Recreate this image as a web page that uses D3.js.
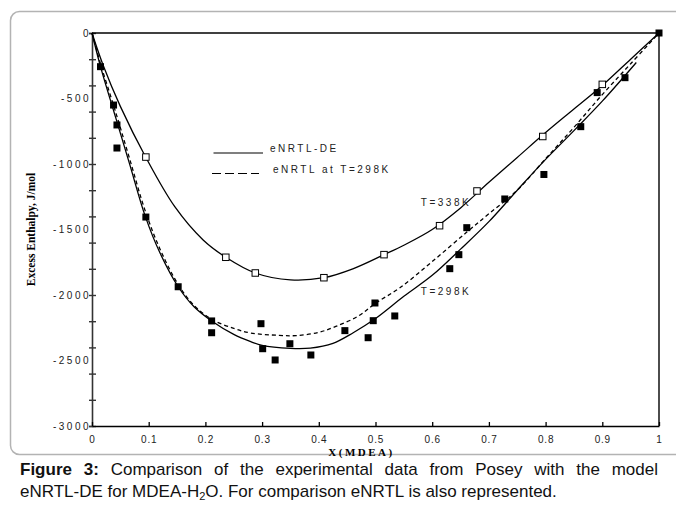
<!DOCTYPE html>
<html>
<head>
<meta charset="utf-8">
<script src="https://cdn.jsdelivr.net/npm/d3@7"></script>
<style>
  body { margin: 0; background: #fff; }
  #wrap { position: relative; width: 676px; height: 513px; overflow: hidden; }
  #wrap svg { position: absolute; left: 0; top: 0; }
  .small { font-family: Arial, "Liberation Sans", sans-serif; font-size: 10px; letter-spacing: 2.5px; fill: #222; }
  #caption { position: absolute; left: 20px; top: 459px; width: 638px;
             font-family: Arial, "Liberation Sans", sans-serif; font-size: 17px; line-height: 22px; color: #111; }
  #caption .l1 { text-align: justify; text-align-last: justify; }
</style>
</head>
<body>
<div id="wrap"></div>
<script>
// ---------- data ----------
const xTicks = [0, 0.1, 0.2, 0.3, 0.4, 0.5, 0.6, 0.7, 0.8, 0.9, 1]
const yLabels = [0, -500, -1000, -1500, -2000, -2500, -3000]
const yTicks = [0, -200, -400, -600, -800, -1000, -1200, -1400, -1600, -1800,
                -2000, -2200, -2400, -2600, -2800, -3000]

// experimental points, Posey, T=298K (filled squares)
const exp298 = [
  [0.015, -257], [0.038, -550], [0.044, -702], [0.044, -878], [0.095, -1405],
  [0.152, -1937], [0.211, -2198], [0.211, -2288], [0.298, -2219], [0.301, -2410],
  [0.323, -2496], [0.349, -2372], [0.386, -2458], [0.446, -2272], [0.487, -2326],
  [0.496, -2196], [0.499, -2061], [0.534, -2160], [0.631, -1799], [0.647, -1692],
  [0.661, -1486], [0.728, -1267], [0.797, -1080], [0.862, -715], [0.891, -455],
  [0.940, -341], [1.0, 0]
]
// experimental points, T=338K (open squares)
const exp338 = [
  [0.095, -947], [0.236, -1712], [0.288, -1832], [0.409, -1868], [0.515, -1692],
  [0.613, -1471], [0.679, -1206], [0.795, -790], [0.900, -392]
]
// eNRTL-DE, T=338K
const modelDE338 = [
  [0, 0], [0.02, -250], [0.05, -560], [0.095, -950], [0.146, -1326], [0.196, -1580],
  [0.236, -1712], [0.288, -1832], [0.35, -1885], [0.409, -1868], [0.46, -1800],
  [0.515, -1692], [0.55, -1620], [0.6, -1500], [0.65, -1335], [0.7, -1140],
  [0.75, -950], [0.8, -760], [0.85, -580], [0.9, -400], [0.95, -200], [1, 0]
]
// eNRTL-DE, T=298K
const modelDE298 = [
  [0, 0], [0.015, -257], [0.04, -620], [0.066, -995], [0.094, -1400], [0.12, -1680],
  [0.152, -1937], [0.18, -2090], [0.211, -2198], [0.25, -2300], [0.28, -2356],
  [0.3, -2385], [0.35, -2407], [0.385, -2405], [0.425, -2369], [0.46, -2290],
  [0.5, -2180], [0.55, -2010], [0.6, -1850], [0.65, -1650], [0.7, -1440],
  [0.75, -1200], [0.8, -965], [0.85, -745], [0.9, -520], [0.96, -225]
]
// eNRTL at T=298K (dashed)
const modelE298 = [
  [0, 0], [0.015, -235], [0.04, -580], [0.066, -955], [0.094, -1360], [0.12, -1650],
  [0.152, -1920], [0.18, -2080], [0.211, -2185], [0.25, -2255], [0.28, -2290],
  [0.33, -2308], [0.36, -2310], [0.4, -2285], [0.43, -2240], [0.47, -2160],
  [0.5, -2063], [0.543, -1945], [0.6, -1745], [0.661, -1520], [0.7, -1380],
  [0.75, -1200], [0.8, -960], [0.85, -720], [0.9, -470], [0.95, -235], [1, 0]
]

const legendItems = [
  { label: "eNRTL-DE", dash: null },
  { label: "eNRTL at T=298K", dash: "9,4" }
]
const curveLabels = [
  { text: "T=338K", x: 0.58, y: -1290 },
  { text: "T=298K", x: 0.58, y: -1970 }
]

// ---------- layout ----------
const width = 676
const height = 513
const plot = { left: 92, right: 659, top: 33, bottom: 426 }

const wrapper = d3.select("#wrap")
  .append("svg")
  .attr("width", width)
  .attr("height", height)

// rounded frame around the figure
wrapper.append("rect")
  .attr("x", 10.5).attr("y", 11.5)
  .attr("width", 720).attr("height", 443)
  .attr("rx", 9)
  .attr("fill", "none")
  .attr("stroke", "#b3b3b3")
  .attr("stroke-width", 1.5)

// ---------- scales ----------
const xScale = d3.scaleLinear()
  .domain([0, 1])
  .range([plot.left, plot.right])

const yScale = d3.scaleLinear()
  .domain([-3000, 0])
  .range([plot.bottom, plot.top])

const bounds = wrapper.append("g")

// ---------- axes ----------
// y ticks every 200, crossing the axis line
const yTickAxis = d3.axisLeft(yScale)
  .tickValues(yTicks)
  .tickSize(3)
  .tickFormat("")
const yTickG = bounds.append("g")
  .attr("transform", `translate(${plot.left},0)`)
  .call(yTickAxis)
yTickG.select(".domain").attr("stroke", "#333").attr("stroke-width", 1.6)
yTickG.selectAll(".tick line").attr("x2", -3).attr("x1", 4).attr("stroke", "#333").attr("stroke-width", 1.4)

// y labels every 500
const yLabelAxis = d3.axisLeft(yScale)
  .tickValues(yLabels)
  .tickSize(0)
  .tickPadding(1)
  .tickFormat(d => d3.format("d")(d).replace("−", "-"))
const yLabelG = bounds.append("g")
  .attr("transform", `translate(${plot.left},0)`)
  .call(yLabelAxis)
yLabelG.select(".domain").remove()
yLabelG.selectAll("text")
  .attr("class", "small")
  .attr("font-size", null)
  .attr("font-family", null)

// x axis, ticks pointing up
const xAxis = d3.axisBottom(xScale)
  .tickValues(xTicks)
  .tickSizeInner(-4)
  .tickSizeOuter(0)
  .tickPadding(10)
  .tickFormat(d => d3.format("")(d))
const xAxisG = bounds.append("g")
  .attr("transform", `translate(0,${plot.bottom})`)
  .call(xAxis)
xAxisG.select(".domain").attr("stroke", "#000").attr("stroke-width", 1.4)
xAxisG.selectAll(".tick line").attr("stroke", "#000").attr("stroke-width", 1.3)
xAxisG.selectAll("text")
  .attr("class", "small")
  .attr("font-size", null)
  .attr("font-family", null)
  .style("letter-spacing", "0.8px")

// top and right frame lines
bounds.append("line")
  .attr("x1", xScale(0)).attr("x2", xScale(1))
  .attr("y1", yScale(0)).attr("y2", yScale(0))
  .attr("stroke", "#000").attr("stroke-width", 1.4)
bounds.append("line")
  .attr("x1", xScale(1)).attr("x2", xScale(1))
  .attr("y1", yScale(0)).attr("y2", yScale(-3000))
  .attr("stroke", "#000").attr("stroke-width", 1.4)

// axis titles
bounds.append("text")
  .attr("x", (plot.left + plot.right) / 2 - 14)
  .attr("y", 456)
  .attr("text-anchor", "middle")
  .style("font-family", "'Times New Roman', 'Liberation Serif', serif")
  .style("font-weight", "bold")
  .style("font-size", "11px")
  .style("letter-spacing", "2.5px")
  .text("X(MDEA)")

bounds.append("text")
  .attr("transform", `translate(35,${(plot.top + plot.bottom) / 2}) rotate(-90)`)
  .attr("text-anchor", "middle")
  .style("font-family", "'Times New Roman', 'Liberation Serif', serif")
  .style("font-weight", "bold")
  .style("font-size", "11.5px")
  .text("Excess Enthalpy, J/mol")

// ---------- lines ----------
const lineGenerator = d3.line()
  .x(d => xScale(d[0]))
  .y(d => yScale(d[1]))
  .curve(d3.curveCatmullRom.alpha(0.5))

bounds.append("path")
  .attr("d", lineGenerator(modelE298))
  .attr("fill", "none")
  .attr("stroke", "#000")
  .attr("stroke-width", 1.3)
  .attr("stroke-dasharray", "4,3")

bounds.selectAll(".solid")
  .data([modelDE338, modelDE298])
  .join("path")
  .attr("class", "solid")
  .attr("d", d => lineGenerator(d))
  .attr("fill", "none")
  .attr("stroke", "#000")
  .attr("stroke-width", 1.3)

// ---------- points ----------
const sq = 7
bounds.selectAll(".filled")
  .data(exp298)
  .join("rect")
  .attr("class", "filled")
  .attr("x", d => xScale(d[0]) - sq / 2)
  .attr("y", d => yScale(d[1]) - sq / 2)
  .attr("width", sq).attr("height", sq)
  .attr("fill", "#000")

const osq = 6.5
bounds.selectAll(".open")
  .data(exp338)
  .join("rect")
  .attr("class", "open")
  .attr("x", d => xScale(d[0]) - osq / 2)
  .attr("y", d => yScale(d[1]) - osq / 2)
  .attr("width", osq).attr("height", osq)
  .attr("fill", "#fff")
  .attr("stroke", "#000")
  .attr("stroke-width", 1)

// ---------- labels on curves ----------
bounds.selectAll(".tlabel")
  .data(curveLabels)
  .join("text")
  .attr("class", "tlabel small")
  .attr("x", d => xScale(d.x))
  .attr("y", d => yScale(d.y) + 4)
  .text(d => d.text)

// ---------- legend ----------
const legend = bounds.append("g")
  .attr("transform", "translate(212,153)")
const legendRow = legend.selectAll("g")
  .data(legendItems)
  .join("g")
  .attr("transform", (d, i) => `translate(0,${i * 20.5})`)
legendRow.append("line")
  .attr("x1", (d, i) => i ? 0 : 1.5).attr("x2", (d, i) => i ? 47 : 51)
  .attr("stroke", "#000")
  .attr("stroke-width", 1.2)
  .attr("stroke-dasharray", d => d.dash)
legendRow.append("text")
  .attr("class", "small")
  .attr("x", (d, i) => i ? 61 : 58)
  .attr("y", -1)
  .text(d => d.label)

// ---------- caption ----------
const caption = d3.select("#wrap").append("div").attr("id", "caption")
const line1 = caption.append("div").attr("class", "l1")
line1.append("b").text("Figure 3:")
line1.append("span").text(" Comparison of the experimental data from Posey with the model")
const line2 = caption.append("div")
line2.append("span").text("eNRTL-DE for MDEA-H")
line2.append("sub").style("font-size", "11px").style("vertical-align", "-3px").style("line-height", "0").text("2")
line2.append("span").text("O. For comparison eNRTL is also represented.")
</script>
</body>
</html>
